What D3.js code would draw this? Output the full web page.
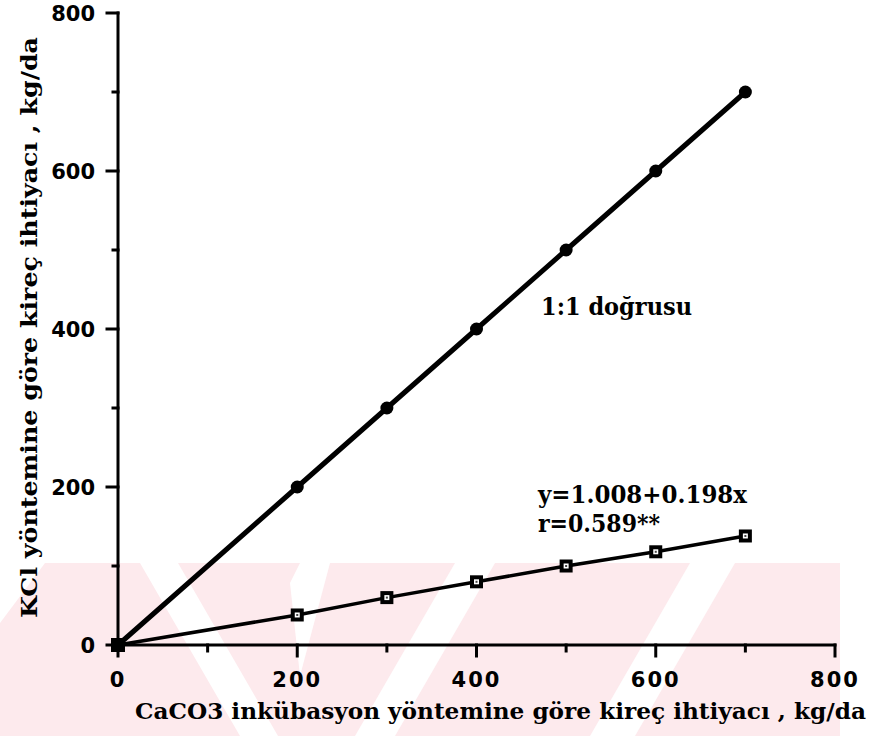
<!DOCTYPE html>
<html>
<head>
<meta charset="utf-8">
<script src="https://cdn.jsdelivr.net/npm/d3@7"></script>
<style>
  html, body { margin: 0; padding: 0; background: #fff; }
  svg { display: block; }
</style>
</head>
<body>
<svg id="chart" width="874" height="736"></svg>
<script>
// CaCO3 dose (x) levels
const doses = [0, 200, 300, 400, 500, 600, 700];
// 1:1 reference line values
const oneToOne = [0, 200, 300, 400, 500, 600, 700];
// KCl method lime requirement
const kclValues = [0, 38, 60, 80, 100, 118, 138];

const majorTicks = [0, 200, 400, 600, 800];
const minorTicks = [100, 300, 500, 700];

const xTitle = "CaCO3 inkübasyon yöntemine göre kireç ihtiyacı , kg/da";
const yTitle = "KCl yöntemine göre kireç ihtiyacı , kg/da";
const lineLabel = "1:1 doğrusu";
const eqLabel = "y=1.008+0.198x";
const rLabel = "r=0.589**";

const svg = d3.select("#chart");

const x = d3.scaleLinear().domain([0, 800]).range([118, 835]);
const y = d3.scaleLinear().domain([0, 800]).range([645, 13]);

// faint pink striped watermark band along the bottom
const bandTop = 563, bandBot = 736;
const shift = 100;
const wm = svg.append("g");
wm.append("polygon")
  .attr("points", `45,${bandTop} 840,${bandTop} 840,${bandBot} 0,${bandBot} 0,${bandTop + 60}`)
  .attr("fill", "#fdeaed");
// white diagonal gaps: one "\" on the left, "/" ones to the right
const backGaps = [[140, 178]];
const fwdGaps = [[455, 495], [690, 735]];
wm.selectAll(".bg").data(backGaps).join("polygon")
  .attr("fill", "#fff")
  .attr("points", d => `${d[0]},${bandTop} ${d[1]},${bandTop} ${d[1] + shift},${bandBot} ${d[0] + shift},${bandBot}`);
wm.selectAll(".fg").data(fwdGaps).join("polygon")
  .attr("fill", "#fff")
  .attr("points", d => `${d[0]},${bandTop} ${d[1]},${bandTop} ${d[1] - shift},${bandBot} ${d[0] - shift},${bandBot}`);
wm.append("polygon").attr("fill", "#fff")
  .attr("points", `300,${bandTop} 330,${bandTop} 300,${bandBot - 60} 290,${bandTop + 20}`);

// axes
const tickFont = "'DejaVu Sans', sans-serif";
const ax = svg.append("g").attr("stroke", "#000").attr("stroke-linecap", "square");
ax.append("line").attr("x1", x(0)).attr("x2", x(800)).attr("y1", y(0)).attr("y2", y(0)).attr("stroke-width", 3);
ax.append("line").attr("x1", x(0)).attr("x2", x(0)).attr("y1", y(0)).attr("y2", y(800)).attr("stroke-width", 3);
ax.selectAll(".xmaj").data(majorTicks).join("line")
  .attr("x1", d => x(d)).attr("x2", d => x(d)).attr("y1", y(0)).attr("y2", y(0) + 11).attr("stroke-width", 3);
ax.selectAll(".xmin").data(minorTicks).join("line")
  .attr("x1", d => x(d)).attr("x2", d => x(d)).attr("y1", y(0)).attr("y2", y(0) + 6).attr("stroke-width", 3);
ax.selectAll(".ymaj").data(majorTicks).join("line")
  .attr("x1", x(0) - 11).attr("x2", x(0)).attr("y1", d => y(d)).attr("y2", d => y(d)).attr("stroke-width", 3);
ax.selectAll(".ymin").data(minorTicks).join("line")
  .attr("x1", x(0) - 5).attr("x2", x(0)).attr("y1", d => y(d)).attr("y2", d => y(d)).attr("stroke-width", 3);

svg.append("g").selectAll("text").data(majorTicks).join("text")
  .attr("x", d => x(d)).attr("y", y(0) + 42)
  .attr("text-anchor", "middle")
  .attr("font-family", tickFont).attr("font-weight", "bold").attr("font-size", 21)
  .attr("letter-spacing", 2)
  .text(d => d);
svg.append("g").selectAll("text").data(majorTicks).join("text")
  .attr("x", 95).attr("y", d => y(d) + 8)
  .attr("text-anchor", "end")
  .attr("font-family", tickFont).attr("font-weight", "bold").attr("font-size", 21)
  .text(d => d);

// axis titles
const serif = "'DejaVu Serif', serif";
svg.append("text")
  .attr("x", 135).attr("y", 719)
  .attr("font-family", serif).attr("font-weight", "bold").attr("font-size", 22)
  .attr("textLength", 731).attr("lengthAdjust", "spacingAndGlyphs")
  .text(xTitle);
svg.append("text")
  .attr("transform", "translate(37,618) rotate(-90)")
  .attr("font-family", serif).attr("font-weight", "bold").attr("font-size", 22)
  .attr("textLength", 581).attr("lengthAdjust", "spacingAndGlyphs")
  .text(yTitle);

// lines
const pts1 = doses.map((d, i) => [d, oneToOne[i]]);
const pts2 = doses.map((d, i) => [d, kclValues[i]]);
const line = d3.line().x(d => x(d[0])).y(d => y(d[1]));

svg.append("path").datum(pts2).attr("d", line)
  .attr("fill", "none").attr("stroke", "#000").attr("stroke-width", 3.5);
svg.append("path").datum(pts1).attr("d", line)
  .attr("fill", "none").attr("stroke", "#000").attr("stroke-width", 5);

// 1:1 markers
svg.append("g").selectAll("circle").data(pts1.slice(1)).join("circle")
  .attr("cx", d => x(d[0])).attr("cy", d => y(d[1])).attr("r", 6.5).attr("fill", "#000");

// KCl markers: black square with small open centre
const sq = svg.append("g").selectAll("g").data(pts2.slice(1)).join("g")
  .attr("transform", d => `translate(${x(d[0])},${y(d[1])})`);
sq.append("rect").attr("x", -6.5).attr("y", -6.5).attr("width", 13).attr("height", 13).attr("fill", "#000");
sq.append("rect").attr("x", -2.5).attr("y", -2.5).attr("width", 5).attr("height", 5).attr("fill", "#fff");
sq.append("rect").attr("x", -1).attr("y", -1).attr("width", 2).attr("height", 2).attr("fill", "#444");

// origin marker (both series start at 0,0)
svg.append("rect").attr("x", x(0) - 7).attr("y", y(0) - 7).attr("width", 14).attr("height", 14).attr("fill", "#000");

// annotations
svg.append("text").attr("x", 541).attr("y", 315)
  .attr("font-family", serif).attr("font-weight", "bold").attr("font-size", 24)
  .attr("textLength", 151).attr("lengthAdjust", "spacingAndGlyphs")
  .text(lineLabel);
svg.append("text").attr("x", 538).attr("y", 503)
  .attr("font-family", serif).attr("font-weight", "bold").attr("font-size", 24)
  .attr("textLength", 209).attr("lengthAdjust", "spacingAndGlyphs")
  .text(eqLabel);
svg.append("text").attr("x", 538).attr("y", 532)
  .attr("font-family", serif).attr("font-weight", "bold").attr("font-size", 24)
  .attr("textLength", 122).attr("lengthAdjust", "spacingAndGlyphs")
  .text(rLabel);
</script>
</body>
</html>
